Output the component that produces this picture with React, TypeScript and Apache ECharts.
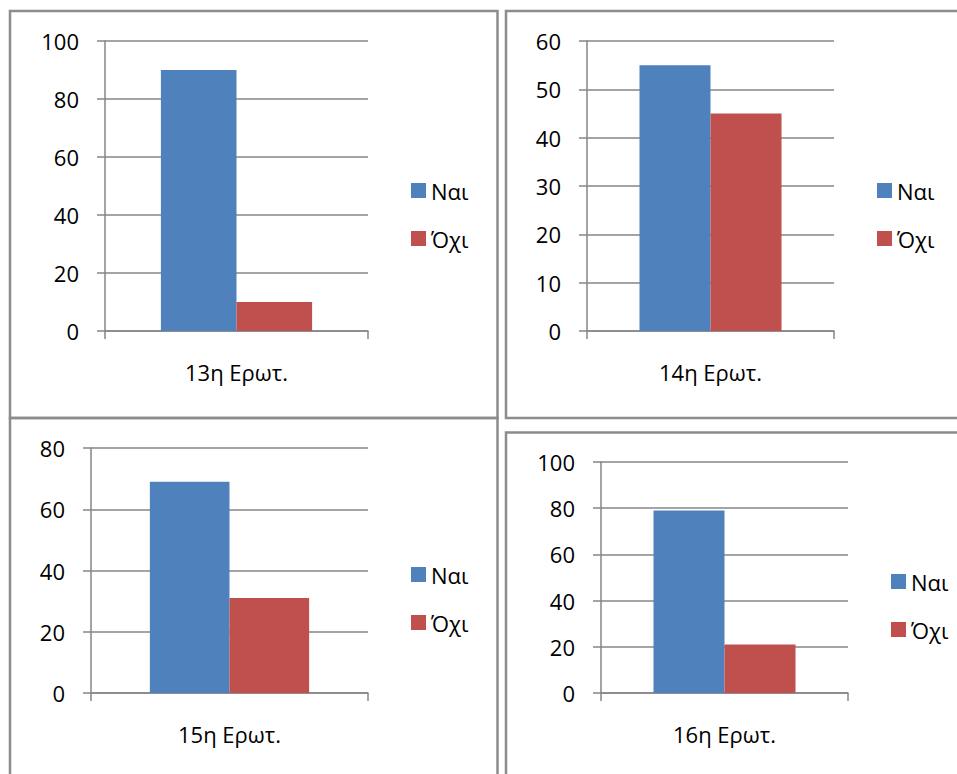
import React, { useEffect, useRef } from "react";
import * as echarts from "echarts";

const questions = ["13η Ερωτ.", "14η Ερωτ.", "15η Ερωτ.", "16η Ερωτ."];
const seriesNames = ["Ναι", "Όχι"];
const yesValues = [90, 55, 69, 79];
const noValues = [10, 45, 31, 21];
const yMax = [100, 60, 80, 100];
const yInterval = [20, 10, 20, 20];

const FONT = "Open Sans";
const FS = 22;
const BLUE = "#4F81BD";
const RED = "#C0504D";
const AXIS = "#868686";

const grids = [
  { left: 105, top: 41, width: 263, height: 290 },
  { left: 587, top: 41, width: 247, height: 290 },
  { left: 91, top: 448, width: 277, height: 245 },
  { left: 601, top: 462, width: 247, height: 231 },
];
const legendPos = [
  { left: 411, top: 179.5 },
  { left: 877, top: 179.5 },
  { left: 411, top: 563.5 },
  { left: 891, top: 570.5 },
];
const frames = [
  { x: 10, y: 11, width: 487.5, height: 407 },
  { x: 506, y: 11, width: 470, height: 407 },
  { x: 10, y: 418, width: 487.5, height: 400 },
  { x: 506, y: 432.5, width: 470, height: 400 },
];

export default function App() {
  const ref = useRef<HTMLDivElement>(null);
  useEffect(() => {
    document.body.style.margin = "0";
    const chart = echarts.init(ref.current!, null, { renderer: "svg" });
    const series: any[] = [];
    questions.forEach((q, i) => {
      series.push({
        name: seriesNames[0],
        type: "bar",
        xAxisIndex: i,
        yAxisIndex: i,
        data: [yesValues[i]],
        itemStyle: { color: BLUE },
        barGap: "0%",
        barCategoryGap: "42.5%",
      });
      series.push({
        name: seriesNames[1],
        type: "bar",
        xAxisIndex: i,
        yAxisIndex: i,
        data: [noValues[i]],
        itemStyle: { color: RED },
        barGap: "0%",
        barCategoryGap: "42.5%",
      });
    });
    chart.setOption({
      animation: false,
      textStyle: { fontFamily: FONT },
      grid: grids.map((g) => ({ ...g, containLabel: false })),
      xAxis: questions.map((q, i) => ({
        type: "category",
        gridIndex: i,
        data: [q],
        boundaryGap: true,
        axisLine: { show: true, lineStyle: { color: AXIS, width: 1.5 } },
        axisTick: { show: true, length: 8, alignWithLabel: false, lineStyle: { color: AXIS, width: 1.5 } },
        axisLabel: { color: "#000", fontSize: FS, fontFamily: FONT, margin: 30 },
        splitLine: { show: false },
      })),
      yAxis: questions.map((q, i) => ({
        type: "value",
        gridIndex: i,
        min: 0,
        max: yMax[i],
        interval: yInterval[i],
        axisLine: { show: true, lineStyle: { color: AXIS, width: 1.5 } },
        axisTick: { show: true, length: 8, lineStyle: { color: AXIS, width: 1.5 } },
        axisLabel: { color: "#000", fontSize: FS, fontFamily: FONT, margin: 26 },
        splitLine: { show: true, lineStyle: { color: AXIS, width: 1.5 } },
      })),
      legend: legendPos.map((p) => ({
        data: seriesNames,
        orient: "vertical",
        left: p.left,
        top: p.top,
        itemWidth: 15,
        itemHeight: 15,
        itemGap: 26,
        icon: "rect",
        padding: 0,
        textStyle: { color: "#000", fontSize: FS, fontFamily: FONT, lineHeight: 22 },
      })),
      series,
      graphic: frames.map((f) => ({
        type: "rect",
        shape: { x: f.x, y: f.y, width: f.width, height: f.height },
        style: { fill: "none", stroke: "#8c8c8c", lineWidth: 2.5 },
        silent: true,
        z: 100,
      })),
    });
    return () => chart.dispose();
  }, []);
  return <div ref={ref} style={{ width: 957, height: 774 }} />;
}
